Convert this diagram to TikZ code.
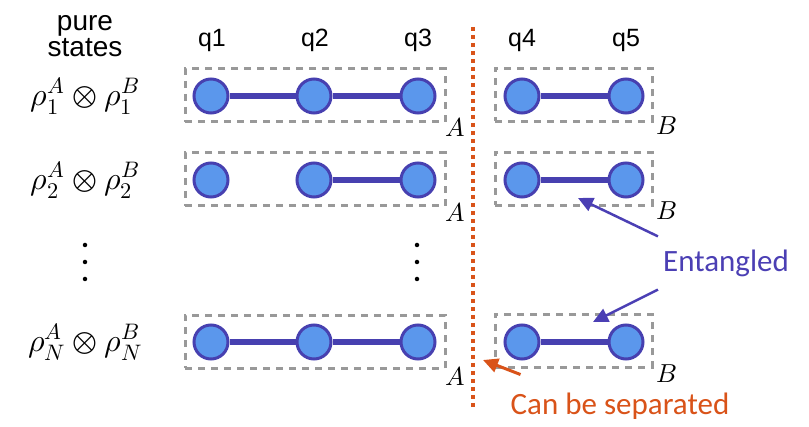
\documentclass[tikz,border=0pt]{standalone}
\usepackage{fontspec}
\usepackage{unicode-math}
\setmathfont{Latin Modern Math}
\newfontfamily\arialf{Liberation Sans}
\newfontfamily\calf{Carlito}
\usetikzlibrary{arrows.meta}
\definecolor{qfill}{HTML}{5B97EC}
\definecolor{qline}{HTML}{4740B0}
\definecolor{boxgray}{HTML}{999999}
\definecolor{sepor}{HTML}{D95319}
\definecolor{entc}{HTML}{4B3FB4}
\tikzset{
  qb/.style={circle, fill=qfill, draw=qline, line width=3pt, minimum size=34pt, inner sep=0pt},
  link/.style={draw=qline, line width=6pt},
  boxd/.style={draw=boxgray, line width=3pt, dash pattern=on 7pt off 6pt, minimum height=53pt, inner sep=0pt},
  qlab/.style={font=\arialf\fontsize{25}{28}\selectfont, inner sep=0pt},
  mathlab/.style={font=\fontsize{32}{38}\selectfont, inner sep=0pt},
  ablab/.style={font=\fontsize{26}{30}\selectfont, inner sep=0pt},
  vdot/.style={circle, fill=black, minimum size=4.5pt, inner sep=0pt},
  entarrow/.style={draw=entc, line width=2.5pt, -{Triangle[length=15pt,width=14pt]}},
  separrow/.style={draw=sepor, line width=3pt, -{Triangle[length=15pt,width=14pt]}},
}
\begin{document}
\begin{tikzpicture}[x=1pt,y=-1pt]
\useasboundingbox (0,0) rectangle (809,427);
% header
\node[font=\arialf\fontsize{28}{26}\selectfont, align=center, inner sep=0pt] (pure) at (85,36) {pure\\states};
\node[qlab] (q1) at (212,40) {q1};
\node[qlab] (q2) at (315,40) {q2};
\node[qlab] (q3) at (418,40) {q3};
\node[qlab] (q4) at (522,40) {q4};
\node[qlab] (q5) at (626,40) {q5};
% formulas
\node[mathlab] (f1) at (85,96) {$\rho_1^A\otimes\rho_1^B$};
\node[mathlab] (f2) at (85,180) {$\rho_2^A\otimes\rho_2^B$};
\node[mathlab] (fN) at (85,342) {$\rho_N^A\otimes\rho_N^B$};
\node[vdot] (d1) at (85,245) {};
\node[vdot] (d2) at (85,262) {};
\node[vdot] (d3) at (85,279) {};
\node[vdot] (e1d) at (417,245) {};
\node[vdot] (e2d) at (417,262) {};
\node[vdot] (e3d) at (417,279) {};
% boxes
\node[boxd, minimum width=260pt] (bA1) at (315,95.5) {};
\node[boxd, minimum width=260pt] (bA2) at (315,179.5) {};
\node[boxd, minimum width=260pt] (bAN) at (315,342) {};
\node[boxd, minimum width=157pt] (bB1) at (573.5,95) {};
\node[boxd, minimum width=157pt] (bB2) at (573.5,179) {};
\node[boxd, minimum width=157pt] (bBN) at (573.5,341) {};
\node[ablab] (lA1) at (455,127) {$A$};
\node[ablab] (lA2) at (455,212) {$A$};
\node[ablab] (lAN) at (455,376) {$A$};
\node[ablab] (lB1) at (667,126) {$B$};
\node[ablab] (lB2) at (667,211) {$B$};
\node[ablab] (lBN) at (667,374) {$B$};
% row 1
\node[qb] (a11) at (211,96) {};
\node[qb] (a12) at (314,96) {};
\node[qb] (a13) at (418,96) {};
\node[qb] (a14) at (522,96) {};
\node[qb] (a15) at (626,96) {};
\draw[link] (a11) -- (a12);
\draw[link] (a12) -- (a13);
\draw[link] (a14) -- (a15);
% row 2
\node[qb] (a21) at (211,180) {};
\node[qb] (a22) at (314,180) {};
\node[qb] (a23) at (418,180) {};
\node[qb] (a24) at (522,180) {};
\node[qb] (a25) at (626,180) {};
\draw[link] (a22) -- (a23);
\draw[link] (a24) -- (a25);
% row N
\node[qb] (aN1) at (211,342) {};
\node[qb] (aN2) at (314,342) {};
\node[qb] (aN3) at (418,342) {};
\node[qb] (aN4) at (522,342) {};
\node[qb] (aN5) at (626,342) {};
\draw[link] (aN1) -- (aN2);
\draw[link] (aN2) -- (aN3);
\draw[link] (aN4) -- (aN5);
% separation line
\coordinate (st) at (473,27);
\coordinate (sb) at (473,407);
\draw[draw=sepor, line width=4pt, dash pattern=on 4pt off 4pt] (st) -- (sb);
% annotations
\node[font=\calf\fontsize{31}{36}\selectfont, text=entc, inner sep=0pt] (ent) at (726,263) {Entangled};
\coordinate (et1) at (578,198);
\coordinate (et2) at (593,322);
\draw[entarrow] (ent.north west) ++(-5,-13) -- (et1);
\draw[entarrow] (ent.south west) ++(-5,13) -- (et2);
\node[font=\calf\fontsize{31}{36}\selectfont, text=sepor, inner sep=0pt] (sep) at (620,406) {Can be separated};
\coordinate (st2) at (483,360);
\draw[separrow] (sep.north west) ++(10,-18) -- (st2);
\end{tikzpicture}
\end{document}
